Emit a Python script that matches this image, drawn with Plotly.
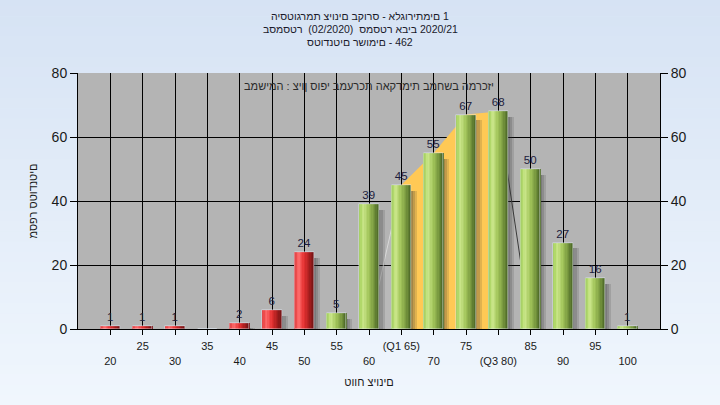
import plotly.graph_objects as go

# ---------------- data ----------------
grades = [20, 25, 30, 35, 40, 45, 50, 55, 60, 65, 70, 75, 80, 85, 90, 95, 100]
tick_labels = ["20", "25", "30", "35", "40", "45", "50", "55", "60", "(Q1 65)",
               "70", "75", "(Q3 80)", "85", "90", "95", "100"]
counts = [1, 1, 1, 0, 2, 6, 24, 5, 39, 45, 55, 67, 68, 50, 27, 16, 1]
pass_grade = 55
q1_grade = 65
q3_grade = 80

title_lines = ["היסטוגרמת ציונים בקורס - אלגוריתמים 1",
               "בסמסטר\u00a0 (02/2020)\u00a0 סמסטר אביב 2020/21",
               "סטודנטים רשומים - 462"]
subtitle = "במשימה : ציון סופי במערכת האקדמית במחשב המרכזי"
x_title = "טווח ציונים"
y_title = "מספר סטודנטים"
y_ticks = [0, 20, 40, 60, 80]


def ltr(s):
    # the original draws the Hebrew glyphs left-to-right in logical order
    return "\u202d" + s + "\u202c"


def hex2rgb(h):
    h = h.lstrip("#")
    return tuple(int(h[i:i + 2], 16) for i in (0, 2, 4))


def grad(stops, t):
    for (p0, c0), (p1, c1) in zip(stops, stops[1:]):
        if p0 <= t <= p1:
            f = (t - p0) / (p1 - p0) if p1 > p0 else 0
            a, b = hex2rgb(c0), hex2rgb(c1)
            return "rgb(%d,%d,%d)" % tuple(round(a[k] + (b[k] - a[k]) * f) for k in range(3))
    return stops[-1][1]


green_stops = [(0, "#98c84a"), (0.22, "#cce88c"), (0.5, "#a2c45a"), (0.78, "#76963e"), (1, "#4c6826")]
red_stops = [(0, "#dc2a2a"), (0.22, "#ff6e6e"), (0.5, "#e63232"), (0.78, "#a81e1e"), (1, "#741414")]

idx = list(range(len(grades)))
q1_i = grades.index(q1_grade)
q3_i = grades.index(q3_grade)
is_pass = [g >= pass_grade for g in grades]

fig = go.Figure()

# interquartile area (main subplot, behind the bar subplot)
fig.add_trace(go.Scatter(x=idx[q1_i:q3_i + 1], y=counts[q1_i:q3_i + 1], mode="lines",
                         line=dict(color="#ffc955", width=0), fill="tozeroy",
                         fillcolor="#ffc955", hoverinfo="skip", showlegend=False))
fig.add_trace(go.Scatter(x=[idx[q1_i - 1], idx[q1_i]], y=[0, counts[q1_i]], mode="lines",
                         line=dict(color="rgba(225,225,225,0.8)", width=1), fill="tozeroy",
                         fillcolor="rgba(255,255,255,0.08)", hoverinfo="skip", showlegend=False))
fig.add_trace(go.Scatter(x=[idx[q3_i], idx[q3_i + 1]], y=[counts[q3_i], 0], mode="lines",
                         line=dict(color="#3a3a3a", width=1), hoverinfo="skip", showlegend=False))

W = 0.6
# shadows
sh_cols = ["rgba(50,50,50,0.45)", "rgba(50,50,50,0.30)", "rgba(50,50,50,0.15)"]
sh_w = 0.065
for k, c in enumerate(sh_cols):
    fig.add_trace(go.Bar(x=idx, y=[max(v - 1.8, 0) for v in counts], width=sh_w, yaxis="y2",
                         offset=W / 2 - 0.01 + k * sh_w, marker=dict(color=c, line=dict(width=0)),
                         hoverinfo="skip", showlegend=False))

# cylinder-like bars made of vertical strips
N = 14
sw = W / N
for k in range(N):
    t = (k + 0.5) / N
    cols = [grad(green_stops, t) if p else grad(red_stops, t) for p in is_pass]
    fig.add_trace(go.Bar(x=idx, y=counts, width=sw * 1.2, offset=-W / 2 + k * sw, yaxis="y2",
                         marker=dict(color=cols, line=dict(width=0)),
                         hoverinfo="skip", showlegend=False))

# value labels
fig.add_trace(go.Bar(x=idx, y=counts, width=W, yaxis="y2", marker=dict(color="rgba(0,0,0,0)"),
                     text=[str(v) if v else "" for v in counts], textposition="outside",
                     textfont=dict(size=11.5, color="#1c1c3c", family="Liberation Sans, Arial"),
                     cliponaxis=False, hovertemplate="%{text}<extra></extra>", showlegend=False))

# background gradient bands
shapes = []
nb = 40
for b in range(nb):
    col = grad([(0, "#d6e3f4"), (1, "#f0f6fd")], b / (nb - 1))
    shapes.append(dict(type="rect", xref="paper", yref="paper", x0=-0.2, x1=1.2,
                       y0=1.3 - (b + 1) * 1.6 / nb, y1=1.3 - b * 1.6 / nb + 0.002,
                       fillcolor=col, line=dict(width=0), layer="below"))
shapes.append(dict(type="rect", xref="x domain", yref="y domain", x0=0, x1=1, y0=0, y1=1,
                   fillcolor="#b4b4b4", line=dict(width=0), layer="below"))

ticktext = [("<br>" + lab) if i % 2 == 0 else lab for i, lab in enumerate(tick_labels)]

font_main = "Liberation Sans, Arial, DejaVu Sans"

# title lines as single-line texts (one per line), then the in-plot caption
annotations = []
for i, line in enumerate(title_lines):
    annotations.append(dict(text=ltr(line), xref="paper", yref="paper",
                            x=(360 - 78) / 582, y=(329 - (16 + 13 * i)) / 256,
                            xanchor="center", yanchor="middle", showarrow=False,
                            font=dict(size=10.5, color="#1a1a2a", family=font_main)))
annotations.append(dict(text=ltr(subtitle), xref="paper", yref="paper", x=0.5, y=1 - 13 / 256,
                        xanchor="center", yanchor="middle", showarrow=False,
                        font=dict(size=11, color="#2a2a2a", family=font_main)))

fig.update_layout(
    width=720, height=405,
    margin=dict(l=78, r=60, t=73, b=76, autoexpand=False),
    paper_bgcolor="#e3ecf8",
    plot_bgcolor="#b4b4b4",
    barmode="overlay",
    bargap=0,
    font=dict(family=font_main, color="#1a1a1a"),
    shapes=shapes,
    xaxis=dict(range=[-1, 17], tickmode="array", tickvals=idx, ticktext=ticktext,
               showgrid=True, gridcolor="#000000", gridwidth=1, zeroline=False,
               ticks="outside", ticklen=5, tickcolor="#000000", showline=True,
               linecolor="#000000", linewidth=1, automargin=False, ticklabelstandoff=2,
               tickfont=dict(size=11, color="#1a1a1a"),
               title=dict(text=ltr(x_title), standoff=12, font=dict(size=11, color="#1a1a1a"))),
    yaxis=dict(range=[0, 80], tickmode="array", tickvals=y_ticks, showgrid=True,
               gridcolor="#000000", gridwidth=1, zeroline=False, ticks="outside", ticklen=7,
               tickcolor="#000000", showline=True, linecolor="#000000", automargin=False,
               tickfont=dict(size=14, color="#1a1a1a"),
               title=dict(text=ltr(y_title), standoff=11, font=dict(size=11, color="#1a1a1a"))),
    yaxis2=dict(range=[0, 80], overlaying="y", side="right", tickmode="array", tickvals=y_ticks,
                showgrid=False, zeroline=False, ticks="outside", ticklen=7, tickcolor="#000000",
                showline=True, linecolor="#000000", automargin=False,
                tickfont=dict(size=14, color="#1a1a1a")),
    annotations=annotations,
)

fig.write_html("out.html", post_script="document.body.style.margin='0px';",
               config={"displayModeBar": False})
